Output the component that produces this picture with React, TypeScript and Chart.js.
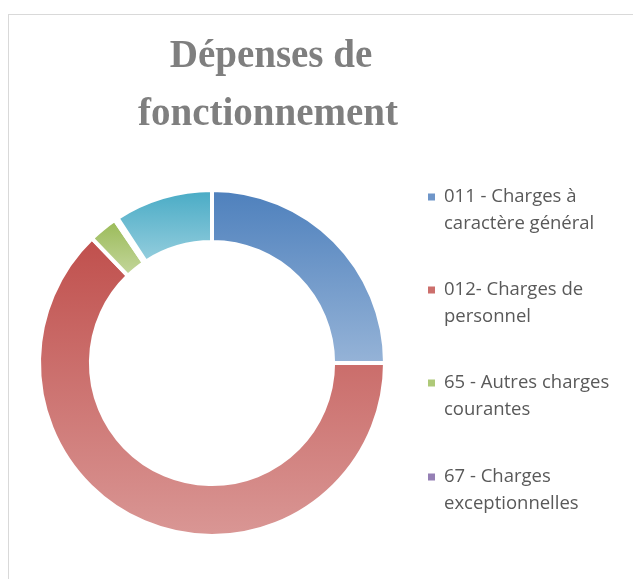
import React, { useEffect, useRef } from "react";
import { Chart, registerables } from "chart.js";

Chart.register(...registerables);

const categories = [
  "011 - Charges à caractère général",
  "012- Charges de personnel",
  "65 - Autres charges courantes",
  "67 - Charges exceptionnelles",
  "Autres",
];
const values = [25.0, 62.8, 2.7, 0.3, 9.2];
const legendLines = [
  ["011 - Charges à", "caractère général"],
  ["012- Charges de", "personnel"],
  ["65 - Autres charges", "courantes"],
  ["67 - Charges", "exceptionnelles"],
];
const titleLines = ["Dépenses de", "fonctionnement"];
const topColors = ["#4f81bd", "#c0504d", "#9bbb59", "#8064a2", "#4bacc6"];
const bottomColors = ["#95b3d7", "#d99694", "#c3d69b", "#b3a2c7", "#93cddd"];
const legendColors = ["#6f96c9", "#cc6f6c", "#aec978", "#9580b5"];

const OUTER = 171;
const INNER = 123;

function arcGradient(ctx: any) {
  const i = ctx.dataIndex;
  const chart = ctx.chart;
  const area = chart.chartArea;
  if (i === undefined) return topColors[0];
  if (!area) return topColors[i];
  const cx = (area.left + area.right) / 2;
  const cy = (area.top + area.bottom) / 2;
  const total = values.reduce((a, b) => a + b, 0);
  let start = -Math.PI / 2;
  for (let k = 0; k < i; k++) start += (values[k] / total) * 2 * Math.PI;
  const end = start + (values[i] / total) * 2 * Math.PI;
  const ys = [
    cy + OUTER * Math.sin(start),
    cy + INNER * Math.sin(start),
    cy + OUTER * Math.sin(end),
    cy + INNER * Math.sin(end),
  ];
  for (const a of [-Math.PI / 2, Math.PI / 2, (3 * Math.PI) / 2]) {
    if (a > start && a < end) ys.push(cy + OUTER * Math.sin(a));
  }
  const y0 = Math.min(...ys);
  const y1 = Math.max(...ys);
  const g = chart.ctx.createLinearGradient(0, y0, 0, Math.max(y1, y0 + 1));
  g.addColorStop(0, topColors[i]);
  g.addColorStop(1, bottomColors[i]);
  return g;
}

const textPlugin = {
  id: "textPlugin",
  afterDraw(chart: any) {
    const c = chart.ctx;
    c.save();
    // Title
    c.fillStyle = "#7f7f7f";
    c.textAlign = "center";
    c.textBaseline = "alphabetic";
    c.font = "bold 39px 'Liberation Serif', serif";
    c.fillText(titleLines[0], 271, 67);
    c.fillText(titleLines[1], 268, 125);
    // Legend
    c.textAlign = "left";
    c.textBaseline = "middle";
    c.font = "18px 'Open Sans', sans-serif";
    const w = c.measureText("65 - Autres charges").width || 166;
    const size = Math.round((18 * 165 / w) * 10) / 10;
    c.font = size + "px 'Open Sans', sans-serif";
    const firstY = [197, 290, 383, 477];
    legendLines.forEach((lines, i) => {
      c.fillStyle = legendColors[i];
      c.fillRect(428, firstY[i] - 3.5, 7, 7);
      c.fillStyle = "#595959";
      lines.forEach((t, j) => c.fillText(t, 444, firstY[i] + j * 27));
    });
    c.restore();
  },
};

export default function App() {
  const ref = useRef<HTMLCanvasElement | null>(null);
  useEffect(() => {
    document.body.style.margin = "0";
    document.body.style.overflow = "hidden";
    if (!ref.current) return;
    const chart = new Chart(ref.current, {
      type: "doughnut",
      data: {
        labels: categories,
        datasets: [
          {
            data: values,
            backgroundColor: arcGradient as any,
            borderColor: "#ffffff",
            borderWidth: 4,
            hoverOffset: 0,
          },
        ],
      },
      options: {
        responsive: false,
        animation: false,
        radius: OUTER + 2,
        cutout: "70%",
        layout: { padding: { left: 39, right: 248, top: 190, bottom: 43 } },
        plugins: {
          legend: { display: false },
          title: { display: false },
          tooltip: { enabled: false },
        },
      } as any,
      plugins: [textPlugin],
    });
    return () => chart.destroy();
  }, []);
  return (
    <div style={{ position: "fixed", left: 0, top: 0, width: 633, height: 579, overflow: "hidden" }}>
      <div
        style={{
          position: "absolute",
          left: 8,
          top: 14,
          width: 640,
          height: 600,
          borderLeft: "1px solid #d9d9d9",
          borderTop: "1px solid #d9d9d9",
          boxSizing: "border-box",
        }}
      />
      <canvas
        ref={ref}
        width={633}
        height={579}
        style={{ position: "absolute", left: 0, top: 0, width: 633, height: 579 }}
      />
    </div>
  );
}
